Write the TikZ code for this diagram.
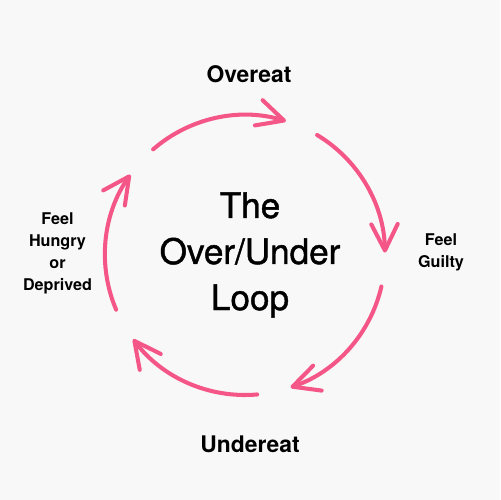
\documentclass[tikz,border=0pt]{standalone}
\usepackage{fontspec}
\setmainfont{TeX Gyre Heros}
\newfontfamily\titlefont[FakeBold=1.2]{TeX Gyre Heros}
\usetikzlibrary{arrows.meta}
\definecolor{looppink}{RGB}{244,86,136}
\definecolor{fondo}{RGB}{248,248,248}

\begin{document}
\begin{tikzpicture}[
    x=0.02cm, y=0.02cm,
    ciclo/.style={
        draw=looppink, line width=2.3pt, line cap=round,
        -{Straight Barb[length=15pt, width=15pt, round]}
    },
    titulo/.style={
        align=center, anchor=north, inner sep=0pt,
        font=\titlefont\fontsize{20}{26.2}\selectfont
    },
    etiqueta/.style={
        align=center, anchor=north, inner sep=0pt,
        font=\bfseries\fontsize{13}{16}\selectfont
    },
    etapa/.style={
        align=center, anchor=north, inner sep=0pt,
        font=\bfseries\fontsize{9.2}{12.5}\selectfont
    },
]

% Fondo
\fill[fondo] (0,0) rectangle (500,500);
\coordinate (centro) at (245,245);

% Texto central
\node[titulo] (titulo) at (250,308) {The\\Over/Under\\Loop};

% Etapas del ciclo
\node[etiqueta] (overeat) at (249,435) {Overeat};
\node[etapa] (culpa) at (441,267) {Feel\\Guilty};
\node[etiqueta] (undereat) at (250,65) {Undereat};
\node[etapa] (hambre) at (57.5,288) {Feel\\Hungry\\or\\Deprived};

% Flechas del ciclo
\draw[ciclo] (centro) ++(131:140) arc[start angle=131, end angle=73, radius=140];
\draw[ciclo] (centro) ++(59:140) arc[start angle=59, end angle=1, radius=140];
\draw[ciclo] (centro) ++(-13:140) arc[start angle=-13, end angle=-71, radius=140];
\draw[ciclo] (centro) ++(-85:140) arc[start angle=-85, end angle=-143, radius=140];
\draw[ciclo] (centro) ++(-157:140) arc[start angle=-157, end angle=-215, radius=140];

\end{tikzpicture}
\end{document}
